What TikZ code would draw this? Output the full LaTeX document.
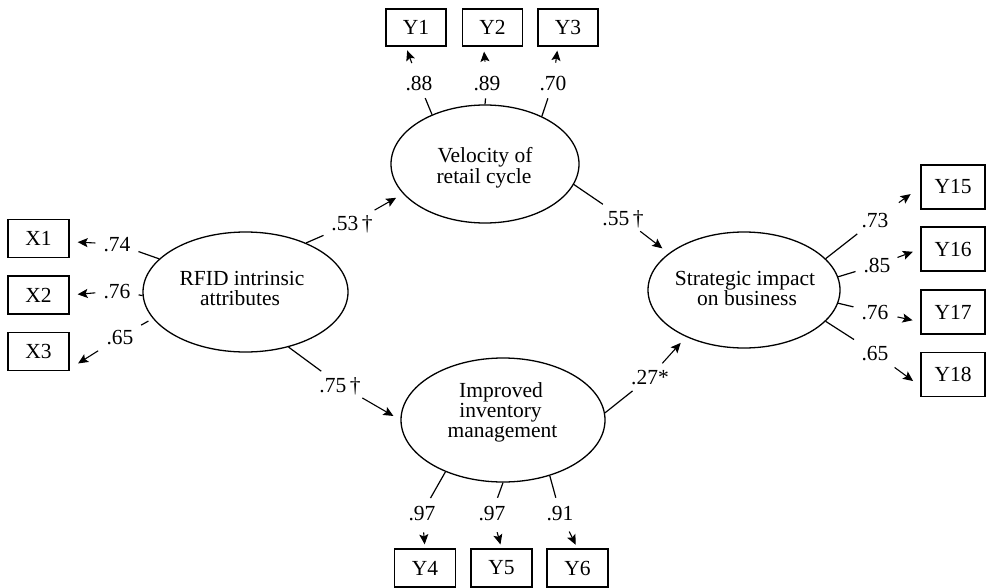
\documentclass[tikz,border=0pt]{standalone}
\usepackage{fontspec}
\setmainfont{Liberation Serif}
\usetikzlibrary{shapes.geometric,arrows.meta}
\begin{document}
\begin{tikzpicture}[x=1pt,y=-1pt,
  font=\fontsize{21.5}{20}\selectfont,
  lat/.style={draw, ellipse, line width=1.3pt, inner sep=0pt},
  txt/.style={anchor=base, inner sep=0pt},
  obs/.style={draw, rectangle, line width=1.3pt, minimum width=61pt, minimum height=38pt, inner sep=0pt},
  obsr/.style={obs, minimum width=64pt, minimum height=44pt},
  coef/.style={inner sep=4pt, text height=14.5pt, text depth=0pt},
  seg/.style={line width=1.2pt, shorten >=4pt},
  arr/.style={line width=1.1pt, -{Stealth[length=10pt,width=9pt,inset=2pt]}},
]
\useasboundingbox (0,0) rectangle (992,588);

% latent variables
\node[lat, minimum width=205pt, minimum height=120pt] (rfid) at (245.5,292) {};
\node[lat, minimum width=188pt, minimum height=118pt] (vel) at (485,164) {};
\node[lat, minimum width=192pt, minimum height=116pt] (strat) at (744,290) {};
\node[lat, minimum width=204pt, minimum height=124pt] (imp) at (503,420) {};

% latent variable names, one node per line, on the baselines
\node[txt] (rfidA) at (242,285.5) {RFID intrinsic};
\node[txt] (rfidB) at (240,305.5) {attributes};
\node[txt] (velA) at (485,163) {Velocity of};
\node[txt] (velB) at (484,183) {retail cycle};
\node[txt] (stratA) at (745,285.5) {Strategic impact};
\node[txt] (stratB) at (747,305.5) {on business};
\node[txt] (impA) at (501,397) {Improved};
\node[txt] (impB) at (500.5,417) {inventory};
\node[txt] (impC) at (502.5,437) {management};

% indicators
\node[obs] (x1) at (38.5,238.5) {X1};
\node[obs] (x2) at (38.5,295) {X2};
\node[obs] (x3) at (38.5,351.5) {X3};
\node[obs, minimum width=60pt, minimum height=37pt] (y1) at (416,27.5) {Y1};
\node[obs, minimum width=60pt, minimum height=37pt] (y2) at (492.5,27.5) {Y2};
\node[obs, minimum width=60pt, minimum height=37pt] (y3) at (568,27.5) {Y3};
\node[obs] (y4) at (425,568) {Y4};
\node[obs] (y5) at (501.5,568) {Y5};
\node[obs] (y6) at (577.5,568) {Y6};
\node[obsr] (y15) at (953,187) {Y15};
\node[obsr] (y16) at (953,249) {Y16};
\node[obsr] (y17) at (953,312) {Y17};
\node[obsr] (y18) at (953,374.5) {Y18};

% coefficients
\node[coef] (c74) at (117,244) {.74};
\node[coef] (c76) at (117,291) {.76};
\node[coef] (c65a) at (120,337) {.65};
\node[coef] (c88) at (419,83) {.88};
\node[coef] (c89) at (487,83) {.89};
\node[coef] (c70) at (553,83) {.70};
\node[coef] (c53) at (352,223) {.53\,†};
\node[coef] (c55) at (623,218) {.55\,†};
\node[coef] (c75) at (340,385) {.75\,†};
\node[coef] (c27) at (650,377) {.27*};
\node[coef] (c73) at (875,220) {.73};
\node[coef] (c85) at (877,265) {.85};
\node[coef] (c76b) at (875,312) {.76};
\node[coef] (c65b) at (875,353) {.65};
\node[coef] (c97a) at (422,513) {.97};
\node[coef] (c97b) at (492,513) {.97};
\node[coef] (c91) at (560,513) {.91};

% segments from latent variables to coefficients
\draw[seg] (rfid.159) -- (c74);
\draw[seg] (rfid.182) -- (c76);
\draw[seg, shorten <=5pt] (rfid.196) -- (c65a);
\draw[seg] (vel.137) -- (c88);
\draw[seg] (vel.90) -- (c89);
\draw[seg] (vel.40) -- (c70);
\draw[seg] (strat.21) -- (c73);
\draw[seg] (strat.8) -- (c85);
\draw[seg] (strat.-8) -- (c76b);
\draw[seg] (strat.-21) -- (c65b);
\draw[seg] (imp.222) -- (c97a);
\draw[seg] (imp.270) -- (c97b);
\draw[seg] (imp.310) -- (c91);
\draw[seg] (rfid.39) -- (c53);
\draw[seg] (rfid.-52) -- (c75);
\draw[seg] (vel.-13) -- (c55);
\draw[seg] (imp.4) -- (c27);

% arrows from coefficients to targets
\draw[arr, shorten <=4pt, shorten >=8pt] (c74) -- (x1.-6);
\draw[arr, shorten <=4pt, shorten >=8pt] (c76) -- (x2.east);
\draw[arr, shorten <=5pt, shorten >=10pt] (c65a) -- (x3.-29);
\draw[arr, shorten <=9pt, shorten >=4pt] (c88) -- (y1.-118);
\draw[arr, shorten <=10pt, shorten >=5pt] (c89) -- (y2.-115);
\draw[arr, shorten <=9pt, shorten >=4pt] (c70) -- (y3.-118);
\draw[arr, shorten <=10pt, shorten >=12pt] (c73) -- (y15.west);
\draw[arr, shorten <=3pt, shorten >=8pt] (c85) -- (y16.west);
\draw[arr, shorten <=5pt, shorten >=8pt] (c76b) -- (y17.197);
\draw[arr, shorten <=5pt, shorten >=9pt] (c65b) -- (y18.200);
\draw[arr, shorten <=8pt, shorten >=4pt] (c97a) -- (y4.north);
\draw[arr, shorten <=8pt, shorten >=4pt] (c97b) -- (y5.north);
\draw[arr, shorten <=8pt, shorten >=4pt] (c91) -- (y6.north);
\draw[arr, shorten <=3pt, shorten >=8pt] (c53) -- (vel.200);
\draw[arr, shorten <=3pt, shorten >=8pt] (c55) -- (strat.154);
\draw[arr, shorten <=3pt, shorten >=8pt] (c75) -- (imp.west);
\draw[arr, shorten <=3pt, shorten >=8pt] (c27) -- (strat.219);
\end{tikzpicture}
\end{document}
